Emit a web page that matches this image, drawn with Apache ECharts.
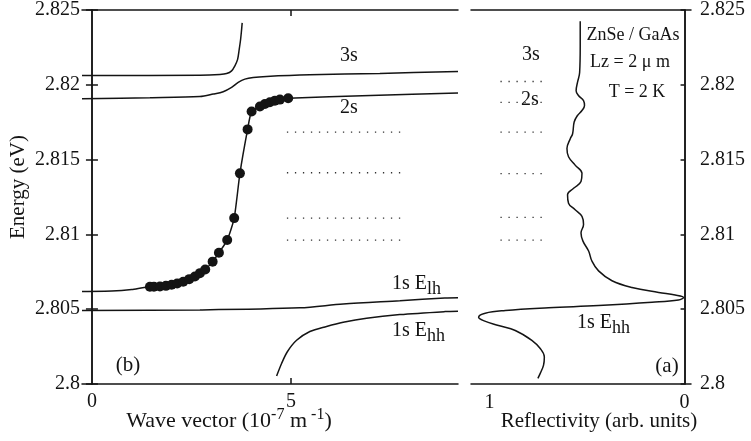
<!DOCTYPE html>
<html><head><meta charset="utf-8">
<script src="https://cdn.jsdelivr.net/npm/echarts@6/dist/echarts.min.js"></script>
<style>html,body{margin:0;padding:0;background:#fff}#c{width:751px;height:441px}</style>
</head><body><div id="c"></div>
<script>
// ---- tick labels ----
const energyTicks = [2.8, 2.805, 2.81, 2.815, 2.82, 2.825];
const waveTickLabels = [0, 5];
const reflTickLabels = [1, 0];

// ---- panel (b): dispersion ----
const dotK = [1.457,1.558,1.709,1.859,2.003,2.143,2.294,2.445,2.588,2.714,2.847,3.033,3.191,3.399,3.575,3.719,3.912,4.013,4.221,4.347,4.472,4.598,4.724,4.932];
const dotE = [2.80650,2.80650,2.80652,2.80656,2.80663,2.80672,2.80683,2.80701,2.80718,2.80741,2.80765,2.80818,2.80877,2.80962,2.81109,2.81408,2.81702,2.81822,2.81855,2.81872,2.81883,2.81894,2.81901,2.81910];

const lowK = [-0.25,0.5,1.0,1.457,1.558,1.709,1.859,2.003,2.143,2.294,2.445,2.588,2.714,2.847,3.033,3.191,3.399,3.575,3.719,3.912,4.013,4.221,4.347,4.472,4.598,4.724,4.932,7.0,9.2];
const lowE = [2.80619,2.80622,2.80632,2.80650,2.80650,2.80652,2.80656,2.80663,2.80672,2.80683,2.80701,2.80718,2.80741,2.80765,2.80818,2.80877,2.80962,2.81109,2.81408,2.81702,2.81822,2.81855,2.81872,2.81883,2.81894,2.81901,2.81910,2.81928,2.81946];

const midK = [-0.25,1.457,2.714,3.048,3.299,3.510,3.676,3.844,4.053,4.389,5.477,7.236,9.2];
const midE = [2.81906,2.81913,2.81921,2.81938,2.81954,2.81983,2.82016,2.82038,2.82049,2.82056,2.82067,2.82076,2.82089];

const upK = [-0.25,2.714,3.216,3.384,3.510,3.593,3.661,3.701,3.736,3.761,3.776];
const upE = [2.82062,2.82064,2.82069,2.82075,2.82093,2.82127,2.82170,2.82237,2.82303,2.82369,2.82414];

const lhK = [-0.25,2.714,5.226,6.314,7.739,8.869,9.2];
const lhE = [2.80491,2.80495,2.80509,2.80535,2.80557,2.80575,2.80577];

const hhK = [4.641,4.766,4.907,5.143,5.477,5.897,6.314,6.902,7.739,8.869,9.2];
const hhE = [2.80053,2.80137,2.80214,2.80292,2.80351,2.80385,2.80413,2.80440,2.80464,2.80484,2.80487];

const leftLevelE = [2.81684, 2.81412, 2.81109, 2.80962];
const leftLevelK = [4.9, 7.86];

// ---- panel (a): reflectivity ----
const reflV = [0.535,0.535,0.538,0.549,0.556,0.544,0.518,0.513,0.526,0.549,0.566,0.574,0.586,0.603,0.595,0.561,0.526,0.531,0.569,0.600,0.595,0.561,0.526,0.518,0.531,0.521,0.492,0.475,0.441,0.372,0.270,0.133,0.048,0.005,0.031,0.167,0.441,0.697,0.919,1.022,1.056,1.031,0.954,0.868,0.783,0.740,0.719,0.723,0.740,0.752];
const reflE = [2.82425,2.82259,2.82082,2.82016,2.81961,2.81928,2.81895,2.81861,2.81828,2.81795,2.81751,2.81673,2.81640,2.81574,2.81519,2.81463,2.81408,2.81353,2.81308,2.81265,2.81209,2.81165,2.81121,2.81066,2.81010,2.80955,2.80889,2.80822,2.80756,2.80690,2.80645,2.80612,2.80595,2.80579,2.80562,2.80546,2.80524,2.80509,2.80491,2.80473,2.80446,2.80424,2.80391,2.80358,2.80292,2.80237,2.80181,2.80126,2.80071,2.80038];

const rightLevelE = [2.82022, 2.81883, 2.81684, 2.81406, 2.81114, 2.80962];
const rightLevelV = [0.944, 0.728];

const zip = (a, b) => a.map((v, i) => [v, b[i]]);
const FONT = '"Liberation Serif", "DejaVu Serif", serif';
const INK = '#141414';
const axisLine = { show: true, lineStyle: { color: INK, width: 1.5 } };
const fmtE = v => { const t = energyTicks.find(x => Math.abs(x - v) < 1e-6); return t === undefined ? '' : String(t); };

const lineSeries = (xi, yi, data, extra) => Object.assign({
  type: 'line', xAxisIndex: xi, yAxisIndex: yi, data, showSymbol: false, symbol: 'none',
  lineStyle: { color: INK, width: 1.5 }, smooth: 0.3, silent: true, z: 3
}, extra || {});

const series = [
  lineSeries(0, 0, zip(lowK, lowE), { smooth: 0.2 }),
  lineSeries(0, 0, zip(midK, midE)),
  lineSeries(0, 0, zip(upK, upE)),
  lineSeries(0, 0, zip(lhK, lhE)),
  lineSeries(0, 0, zip(hhK, hhE)),
  { type: 'scatter', xAxisIndex: 0, yAxisIndex: 0, data: zip(dotK, dotE), symbol: 'circle', symbolSize: 10,
    itemStyle: { color: INK, opacity: 1 }, silent: true, z: 4 },
  lineSeries(2, 2, zip(reflV, reflE), { smooth: 0.4 })
];
leftLevelE.forEach(e => series.push(lineSeries(0, 0, leftLevelK.map(k => [k, e]),
  { smooth: false, lineStyle: { color: '#333', width: 1.3, type: [1.3, 6.7] } })));
rightLevelE.forEach(e => series.push(lineSeries(2, 2, rightLevelV.map(v => [v, e]),
  { smooth: false, lineStyle: { color: '#333', width: 1.3, type: [1.3, 6.7] } })));

const txt = (x, y, text, size, extra) => Object.assign({
  type: 'text', x, y, silent: true,
  style: Object.assign({ text, fill: INK, font: `${size || 20}px ${FONT}`, align: 'center', verticalAlign: 'middle' }, (extra && extra.style) || {})
}, extra && extra.rotation !== undefined ? { rotation: extra.rotation } : {});

const richTxt = (x, y, text, align, size) => ({
  type: 'text', x, y, silent: true,
  style: {
    text, align: align || 'left', verticalAlign: 'middle', fill: INK,
    rich: {
      m: { fontFamily: FONT, fontSize: size || 20, lineHeight: 28, verticalAlign: 'middle', fill: INK },
      sub: { fontFamily: FONT, fontSize: 18, lineHeight: 18, verticalAlign: 'bottom', fill: INK },
      sup: { fontFamily: FONT, fontSize: 16, lineHeight: 19, verticalAlign: 'top', fill: INK }
    }
  }
});

const option = {
  animation: false,
  backgroundColor: '#fff',
  grid: [
    { left: 82, top: 7, width: 376, height: 377 },
    { left: 471, top: 7, width: 220, height: 377 }
  ],
  xAxis: [
    { gridIndex: 0, type: 'value', min: -0.25, max: 9.2, position: 'bottom', axisLine,
      axisTick: { show: true, inside: true, length: 6, customValues: [5], lineStyle: { color: INK, width: 1.5 } },
      axisLabel: { customValues: waveTickLabels, margin: 8, fontFamily: FONT, fontSize: 20, color: INK },
      splitLine: { show: false } },
    { gridIndex: 0, type: 'value', min: -0.25, max: 9.2, position: 'top', axisLine,
      axisTick: { show: true, inside: true, length: 6, customValues: [5], lineStyle: { color: INK, width: 1.5 } },
      axisLabel: { show: false }, splitLine: { show: false } },
    { gridIndex: 1, type: 'value', min: -0.033, max: 1.095, inverse: true, position: 'bottom', axisLine,
      axisTick: { show: false },
      axisLabel: { customValues: reflTickLabels, margin: 9, fontFamily: FONT, fontSize: 20, color: INK },
      splitLine: { show: false } },
    { gridIndex: 1, type: 'value', min: -0.033, max: 1.095, inverse: true, position: 'top', axisLine,
      axisTick: { show: false }, axisLabel: { show: false }, splitLine: { show: false } }
  ],
  yAxis: [
    { gridIndex: 0, type: 'value', min: 2.8, max: 2.825, interval: 0.005, position: 'left', axisLine,
      axisTick: { show: true, inside: true, length: 6, lineStyle: { color: INK, width: 1.5 } },
      axisLabel: { margin: 2, formatter: fmtE, fontFamily: FONT, fontSize: 20, color: INK },
      splitLine: { show: false } },
    { gridIndex: 0, type: 'value', min: 2.8, max: 2.825, interval: 0.005, position: 'right', axisLine,
      axisTick: { show: true, inside: true, length: 6, lineStyle: { color: INK, width: 1.5 } },
      axisLabel: { show: false }, splitLine: { show: false } },
    { gridIndex: 1, type: 'value', min: 2.8, max: 2.825, interval: 0.005, position: 'left', axisLine,
      axisTick: { show: false }, axisLabel: { show: false }, splitLine: { show: false } },
    { gridIndex: 1, type: 'value', min: 2.8, max: 2.825, interval: 0.005, position: 'right', axisLine,
      axisTick: { show: true, inside: true, length: 4, lineStyle: { color: INK, width: 1.5 } },
      axisLabel: { margin: 9, formatter: fmtE, fontFamily: FONT, fontSize: 20, color: INK },
      splitLine: { show: false } }
  ],
  series,
  graphic: [
    txt(18, 187, 'Energy (eV)', 21, { rotation: Math.PI / 2 }),
    richTxt(229, 421, '{m|Wave vector (10}{sup|-7}{m| m}{sup| -1}{m|)}', 'center', 22),
    txt(599, 421, 'Reflectivity (arb. units)', 21),
    txt(349, 56, '3s', 20),
    txt(349, 108, '2s', 20),
    richTxt(392, 284, '{m|1s E}{sub|lh}'),
    richTxt(392, 331, '{m|1s E}{sub|hh}'),
    txt(128, 365, '(b)', 21),
    txt(531, 55, '3s', 20),
    txt(530, 100, '2s', 20),
    txt(633, 35, 'ZnSe / GaAs', 18),
    txt(630, 62, 'Lz = 2 \u03bc m', 18),
    txt(637, 92, 'T = 2 K', 18),
    richTxt(577, 323, '{m|1s E}{sub|hh}'),
    txt(667, 366, '(a)', 21)
  ]
};
echarts.init(document.getElementById('c'), null, { renderer: 'canvas' }).setOption(option);
</script>
</body></html>
